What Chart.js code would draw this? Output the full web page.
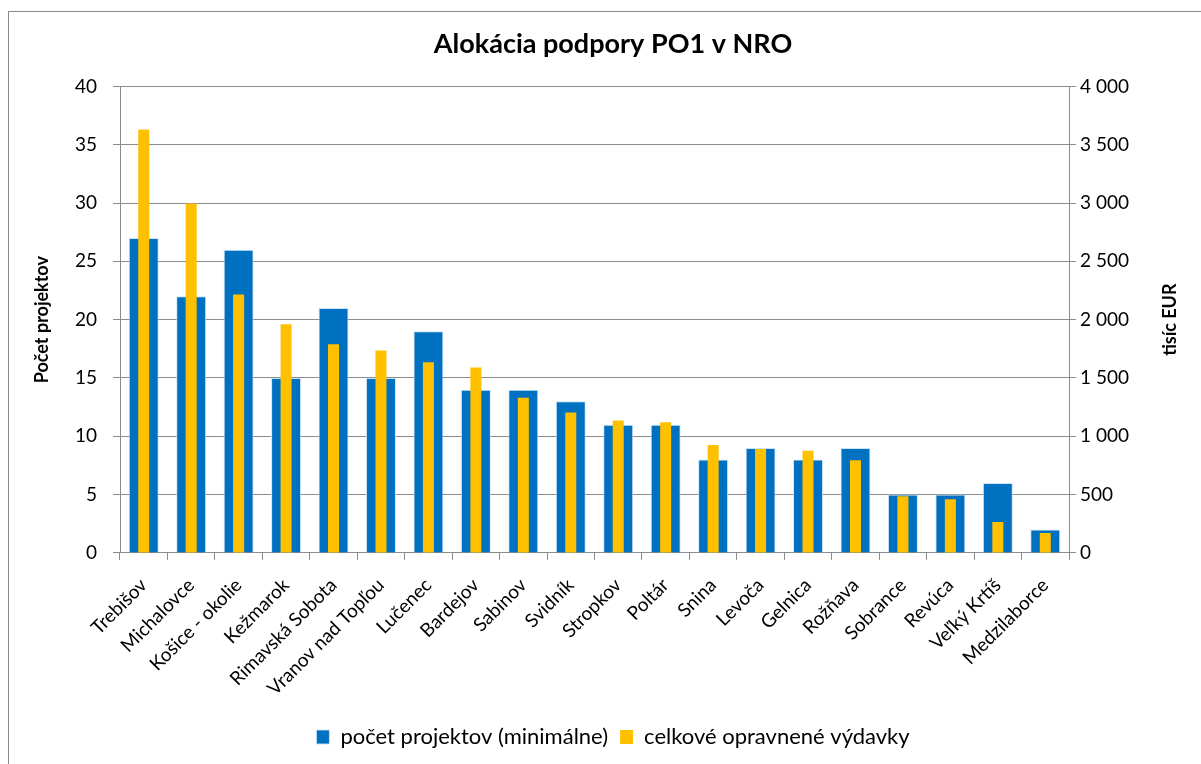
<!DOCTYPE html>
<html>
<head>
<meta charset="utf-8">
<script src="https://cdn.jsdelivr.net/npm/chart.js"></script>
<style>
  html, body { margin: 0; padding: 0; background: #fff; overflow: hidden; }
  #frame { position: absolute; left: 8px; top: 11px; width: 1400px; height: 900px; border: 1px solid #8a8a8a; }
  #wrap { position: absolute; left: 0; top: 0; width: 1201px; height: 764px; }
</style>
</head>
<body>
<div id="frame"></div>
<div id="wrap"><canvas id="chart1"></canvas></div>
<script>
let okresy = ["Trebišov", "Michalovce", "Košice - okolie", "Kežmarok", "Rimavská Sobota",
  "Vranov nad Topľou", "Lučenec", "Bardejov", "Sabinov", "Svidník", "Stropkov", "Poltár",
  "Snina", "Levoča", "Gelnica", "Rožňava", "Sobrance", "Revúca", "Veľký Krtíš", "Medzilaborce"];
let pocetProjektov = [27, 22, 26, 15, 21, 15, 19, 14, 14, 13, 11, 11, 8, 9, 8, 9, 5, 5, 6, 2];
let vydavky = [3630, 2995, 2215, 1960, 1790, 1735, 1635, 1590, 1330, 1205, 1135, 1120, 925, 890, 875, 795, 485, 460, 265, 170];
let barColors = ["#0070C0", "#FFC000"];
let seriesNames = ["počet projektov (minimálne)", "celkové opravnené výdavky"];
let axisTitles = ["Počet projektov", "tisíc EUR"];

const fontName = "Lato, 'Liberation Sans', sans-serif";
const gridColor = "#8c8c8c";

function medzery(v) {
  return v.toString().replace(/\B(?=(\d{3})+(?!\d))/g, " ");
}

// nadpisy osi citane zdola nahor ako v Exceli
const nadpisyOsi = {
  id: "nadpisyOsi",
  afterDraw(chart) {
    const ctx = chart.ctx;
    const area = chart.chartArea;
    const midY = (area.top + area.bottom) / 2;
    [[42, axisTitles[0]], [1170, axisTitles[1]]].forEach(([x, text]) => {
      ctx.save();
      ctx.translate(x, midY);
      ctx.rotate(-Math.PI / 2);
      ctx.font = "bold 18px " + fontName;
      ctx.fillStyle = "#000";
      ctx.textAlign = "center";
      ctx.textBaseline = "middle";
      ctx.fillText(text, 0, 0);
      ctx.restore();
    });
  }
};

new Chart("chart1", {
  type: "bar",
  data: {
    labels: okresy,
    datasets: [{
      label: seriesNames[0],
      data: pocetProjektov,
      backgroundColor: barColors[0],
      borderColor: "rgba(200,225,245,0.9)",
      borderWidth: 1,
      yAxisID: "y",
      barPercentage: 0.632,
      categoryPercentage: 1,
      grouped: false,
      order: 1
    }, {
      label: seriesNames[1],
      data: vydavky,
      backgroundColor: barColors[1],
      yAxisID: "y2",
      barPercentage: 0.232,
      categoryPercentage: 1,
      grouped: false,
      order: 0
    }]
  },
  options: {
    responsive: true,
    maintainAspectRatio: false,
    animation: false,
    layout: { padding: { left: 50, right: 25, top: 0, bottom: 6 } },
    plugins: {
      title: {
        display: true,
        text: "Alokácia podpory PO1 v NRO",
        color: "#000",
        font: { family: fontName, size: 27, weight: "bold" },
        padding: { top: 28, bottom: 26 }
      },
      legend: {
        position: "bottom",
        labels: {
          color: "#000",
          font: { family: fontName, size: 22 },
          boxWidth: 13,
          boxHeight: 14,
          padding: 12,
          sort: (a, b) => a.datasetIndex - b.datasetIndex
        }
      },
      tooltip: { enabled: false }
    },
    scales: {
      x: {
        grid: { display: true, drawOnChartArea: false, color: gridColor, tickLength: 7 },
        border: { color: gridColor },
        ticks: {
          color: "#000",
          font: { family: fontName, size: 19 },
          minRotation: 45,
          maxRotation: 45,
          padding: 14
        }
      },
      y: {
        position: "left",
        min: 0,
        max: 40,
        afterFit: s => { s.width = 70; },
        ticks: { stepSize: 5, color: "#000", font: { family: fontName, size: 19 }, padding: 16 },
        grid: { color: gridColor, tickLength: 7 },
        border: { color: gridColor }
      },
      y2: {
        position: "right",
        min: 0,
        max: 4000,
        afterFit: s => { s.width = 107; },
        ticks: { stepSize: 500, color: "#000", font: { family: fontName, size: 19 }, padding: 4, callback: v => medzery(v) },
        grid: { drawOnChartArea: false, color: gridColor, tickLength: 7 },
        border: { color: gridColor }
      }
    }
  },
  plugins: [nadpisyOsi]
});
</script>
</body>
</html>
